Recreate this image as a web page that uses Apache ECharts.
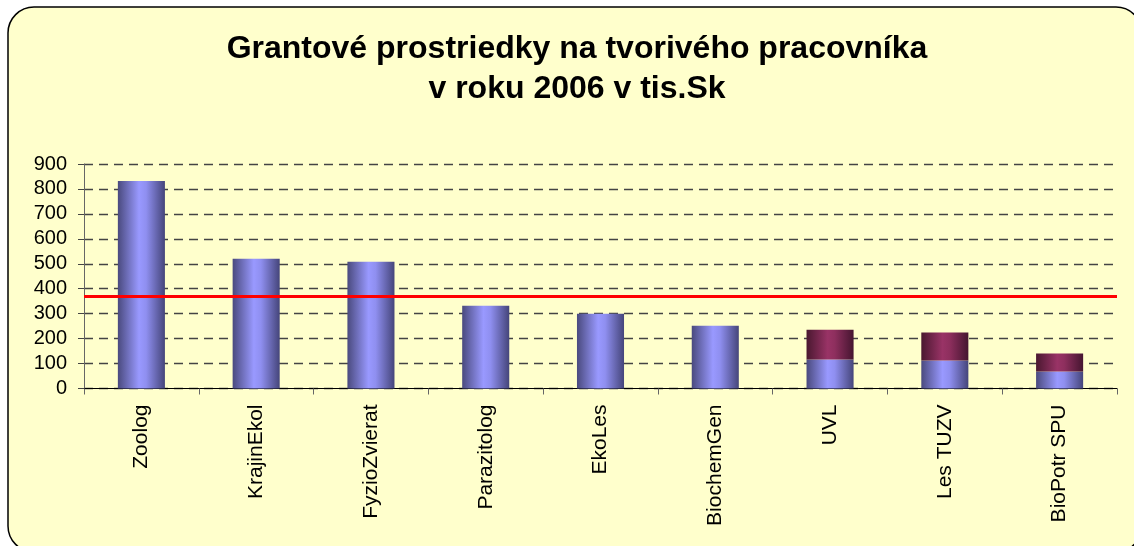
<!DOCTYPE html>
<html>
<head>
<meta charset="utf-8">
<script src="https://cdn.jsdelivr.net/npm/echarts@6/dist/echarts.min.js"></script>
<style>
  html, body { margin: 0; padding: 0; background: #fff; }
  #chart { width: 1134px; height: 546px; }
</style>
</head>
<body>
<div id="chart"></div>
<script>
// data
var categories = ['Zoolog', 'KrajinEkol', 'FyzioZvierat', 'Parazitolog', 'EkoLes', 'BiochemGen', 'UVL', 'Les TUZV', 'BioPotr SPU'];
var baseValues = [832, 520, 508, 332, 300, 252, 116, 112, 68];
var topValues = [null, null, null, null, null, null, 120, 112, 72];
var averageLine = 368;
var yTicks = [0, 900, 100]; // min, max, step

var blueGrad = new echarts.graphic.LinearGradient(0, 0, 1, 0, [
  { offset: 0, color: '#4a4a7e' },
  { offset: 0.45, color: '#9999ff' },
  { offset: 0.6, color: '#8f8ff0' },
  { offset: 1, color: '#45457a' }
]);
var wineGrad = new echarts.graphic.LinearGradient(0, 0, 1, 0, [
  { offset: 0, color: '#4a1830' },
  { offset: 0.45, color: '#993366' },
  { offset: 0.6, color: '#8e2f5e' },
  { offset: 1, color: '#451530' }
]);

var myChart = echarts.init(document.getElementById('chart'));
var option = {
  backgroundColor: '#ffffff',
  animation: false,
  graphic: [{
    type: 'rect',
    z: -10,
    shape: { x: 8, y: 7, width: 1134, height: 545, r: 26 },
    style: { fill: '#ffffcc', stroke: '#000', lineWidth: 1.5 }
  }],
  title: {
    text: 'Grantové prostriedky na tvorivého pracovníka\nv roku 2006 v tis.Sk',
    left: 572,
    textAlign: 'center',
    top: 24,
    textStyle: {
      fontFamily: 'Liberation Sans, Arial, sans-serif',
      fontWeight: 'bold',
      fontSize: 32,
      lineHeight: 40,
      color: '#000'
    }
  },
  grid: { left: 84, right: 17, top: 164, bottom: 157.5 },
  xAxis: {
    type: 'category',
    data: categories,
    axisLine: { lineStyle: { color: '#000', width: 1 } },
    axisTick: { show: true, alignWithLabel: false, length: 6, lineStyle: { color: '#666' } },
    axisLabel: {
      rotate: 90,
      margin: 16,
      fontFamily: 'Liberation Sans, Arial, sans-serif',
      fontSize: 21,
      color: '#000'
    }
  },
  yAxis: {
    type: 'value',
    min: yTicks[0],
    max: yTicks[1],
    interval: yTicks[2],
    axisLine: { show: true, lineStyle: { color: '#666', width: 1 } },
    axisTick: { show: true, length: 6, lineStyle: { color: '#444' } },
    axisLabel: {
      margin: 17,
      fontFamily: 'Liberation Sans, Arial, sans-serif',
      fontSize: 20,
      color: '#000'
    },
    splitLine: { lineStyle: { color: '#444', type: [9, 6], width: 1.3 } }
  },
  series: [
    {
      name: 'base',
      type: 'bar',
      stack: 'total',
      barWidth: '41%',
      data: baseValues,
      itemStyle: { color: blueGrad },
      markLine: {
        silent: true,
        symbol: 'none',
        label: { show: false },
        lineStyle: { color: '#ff0000', width: 3, type: 'solid' },
        data: [{ yAxis: averageLine }]
      }
    },
    {
      name: 'top',
      type: 'bar',
      stack: 'total',
      barWidth: '41%',
      data: topValues,
      itemStyle: { color: wineGrad }
    }
  ]
};
myChart.setOption(option);
</script>
</body>
</html>
